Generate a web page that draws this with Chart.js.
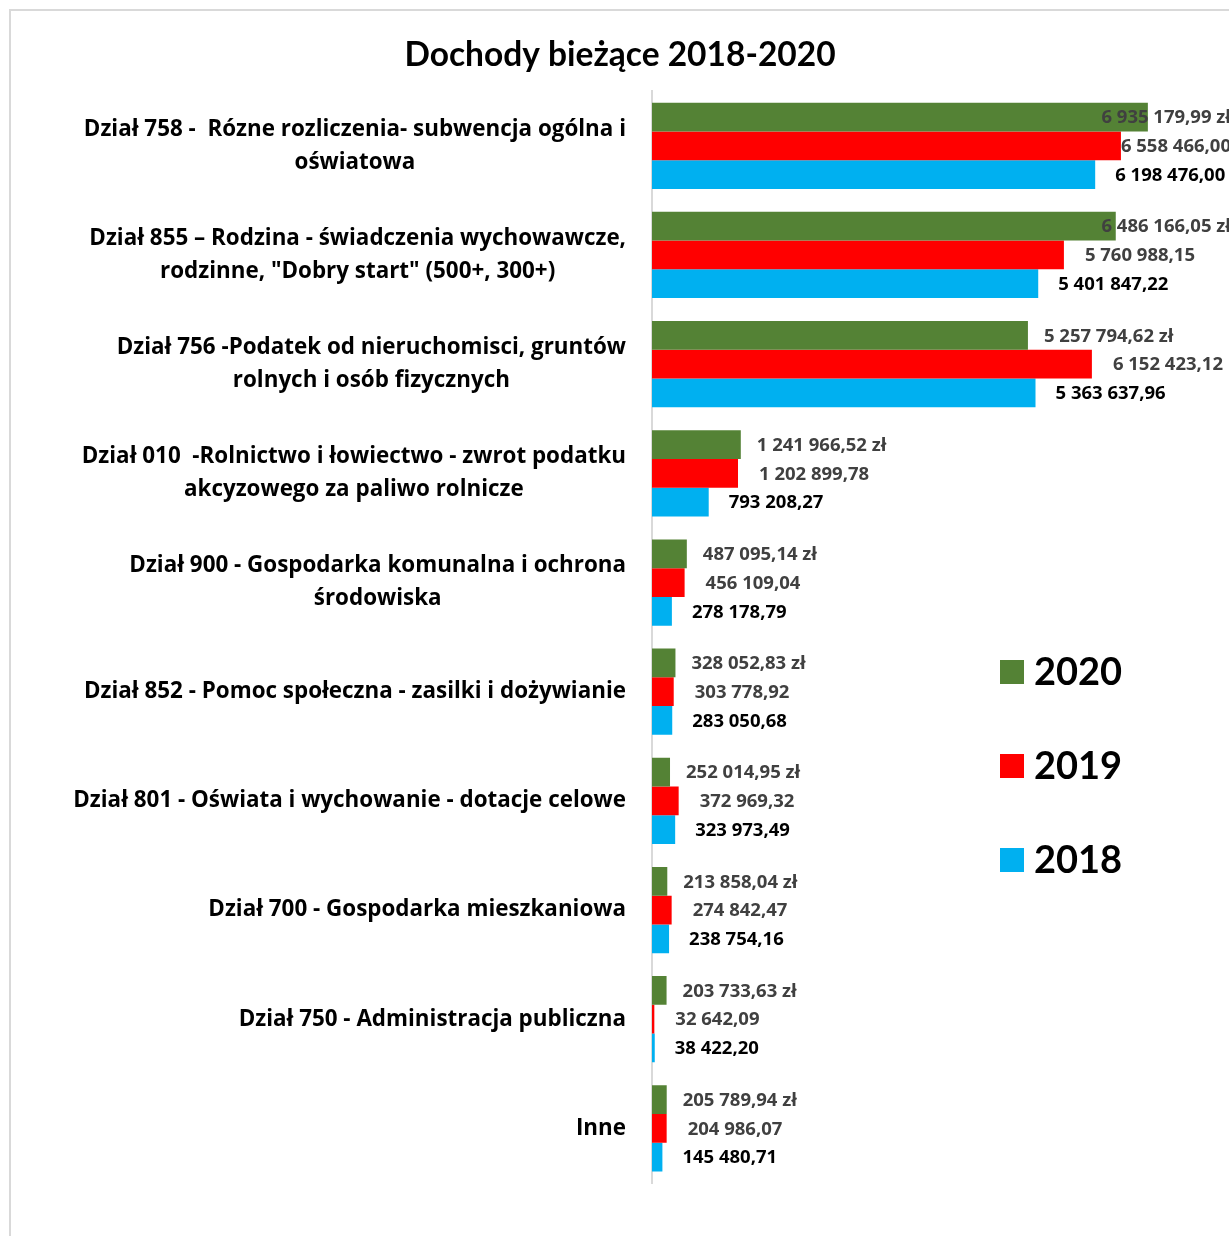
<!DOCTYPE html>
<html>
<head>
<meta charset="utf-8">
<script src="https://cdn.jsdelivr.net/npm/chart.js@4.4.1/dist/chart.umd.min.js"></script>
<style>
    body { margin: 0; background: #fff; }
    #frame { position: absolute; left: 9px; top: 9px; width: 1240px; height: 1240px;
             border-left: 2px solid #d9d9d9; border-top: 2px solid #d9d9d9; }
    #wrap { position: absolute; left: 0; top: 0; width: 1229px; height: 1236px; }
</style>
</head>
<body>
<div id="frame"></div>
<div id="wrap"><canvas id="incomeChart"></canvas></div>

<script>
// Chart data
const categories = [
    ['Dział 758 -  Rózne rozliczenia- subwencja ogólna i', 'oświatowa'],
    ['Dział 855 – Rodzina - świadczenia wychowawcze,', 'rodzinne, "Dobry start" (500+, 300+)'],
    ['Dział 756 -Podatek od nieruchomisci, gruntów', 'rolnych i osób fizycznych'],
    ['Dział 010  -Rolnictwo i łowiectwo - zwrot podatku', 'akcyzowego za paliwo rolnicze'],
    ['Dział 900 - Gospodarka komunalna i ochrona', 'środowiska'],
    ['Dział 852 - Pomoc społeczna - zasilki i dożywianie'],
    ['Dział 801 - Oświata i wychowanie - dotacje celowe'],
    ['Dział 700 - Gospodarka mieszkaniowa'],
    ['Dział 750 - Administracja publiczna'],
    ['Inne']
];
const seriesNames = ['2020', '2019', '2018'];
const values2020 = [6935179.99, 6486166.05, 5257794.62, 1241966.52, 487095.14, 328052.83, 252014.95, 213858.04, 203733.63, 205789.94];
const values2019 = [6558466.00, 5760988.15, 6152423.12, 1202899.78, 456109.04, 303778.92, 372969.32, 274842.47, 32642.09, 204986.07];
const values2018 = [6198476.00, 5401847.22, 5363637.96, 793208.27, 278178.79, 283050.68, 323973.49, 238754.16, 38422.20, 145480.71];

const FONT = 'Lato, "Open Sans", sans-serif';
const LABEL_FONT = '"Open Sans", Lato, sans-serif';

function plFormat(v) {
    const [i, d] = v.toFixed(2).split('.');
    return i.replace(/\B(?=(\d{3})+(?!\d))/g, ' ') + ',' + d;
}

// value labels next to the bars
const valueLabels = {
    id: 'valueLabels',
    afterDatasetsDraw(chart) {
        const ctx = chart.ctx;
        const offsets = [16, 21, 20];
        const colors = ['#404040', '#404040', '#000000'];
        ctx.save();
        ctx.font = 'bold 18.5px ' + LABEL_FONT;
        ctx.textBaseline = 'middle';
        ctx.textAlign = 'left';
        chart.data.datasets.forEach((ds, di) => {
            chart.getDatasetMeta(di).data.forEach((bar, i) => {
                let txt = plFormat(ds.data[i]) + (di === 0 ? ' zł' : '');
                const w = ctx.measureText(txt).width;
                const x = Math.min(bar.x + offsets[di], chart.width + 2 - w);
                ctx.fillStyle = colors[di];
                ctx.fillText(txt, x, bar.y + 1);
            });
        });
        ctx.restore();
    }
};

// category labels: block right aligned, lines centered inside the block
const categoryLabels = {
    id: 'categoryLabels',
    afterDraw(chart) {
        const ctx = chart.ctx;
        const yScale = chart.scales.y;
        const right = 626;
        const lineH = 33;
        ctx.save();
        ctx.font = 'bold 22.4px ' + LABEL_FONT;
        ctx.fillStyle = '#000';
        ctx.textBaseline = 'middle';
        ctx.textAlign = 'center';
        chart.data.labels.forEach((lines, i) => {
            const y = yScale.getPixelForTick(i);
            const maxW = Math.max(...lines.map(l => ctx.measureText(l).width));
            const cx = right - maxW / 2;
            lines.forEach((l, k) => {
                ctx.fillText(l, cx, y + (k - (lines.length - 1) / 2) * lineH);
            });
        });
        ctx.restore();
    }
};

// legend on the right
const sideLegend = {
    id: 'sideLegend',
    afterDraw(chart) {
        const ctx = chart.ctx;
        const ys = [672, 766, 860];
        ctx.save();
        ctx.font = 'bold 38px ' + FONT;
        ctx.textBaseline = 'middle';
        chart.data.datasets.forEach((ds, di) => {
            ctx.fillStyle = ds.backgroundColor;
            ctx.fillRect(1000, ys[di] - 12, 24, 24);
            ctx.fillStyle = '#000';
            ctx.fillText(ds.label, 1034, ys[di] + 1);
        });
        ctx.restore();
    }
};

new Chart(document.getElementById('incomeChart'), {
    type: 'bar',
    data: {
        labels: categories,
        datasets: [
            { label: seriesNames[0], data: values2020, backgroundColor: '#548235' },
            { label: seriesNames[1], data: values2019, backgroundColor: '#ff0000' },
            { label: seriesNames[2], data: values2018, backgroundColor: '#00b0f0' }
        ]
    },
    options: {
        indexAxis: 'y',
        responsive: true,
        maintainAspectRatio: false,
        animation: false,
        categoryPercentage: 0.79,
        barPercentage: 1,
        layout: { padding: { left: 16, right: 5, top: 0, bottom: 53 } },
        plugins: {
            legend: { display: false },
            tooltip: { enabled: false },
            title: {
                display: true,
                text: 'Dochody bieżące 2018-2020',
                color: '#000',
                font: { family: FONT, size: 33.5, weight: 'bold', lineHeight: 1.2 },
                padding: { top: 35, bottom: 16 }
            }
        },
        scales: {
            x: { display: false, min: 0, max: 8000000 },
            y: {
                grid: { display: false },
                border: { display: true, color: '#d9d9d9', width: 2 },
                ticks: { display: false },
                afterFit(s) { s.width = 636; }
            }
        }
    },
    plugins: [valueLabels, categoryLabels, sideLegend]
});
</script>
</body>
</html>
